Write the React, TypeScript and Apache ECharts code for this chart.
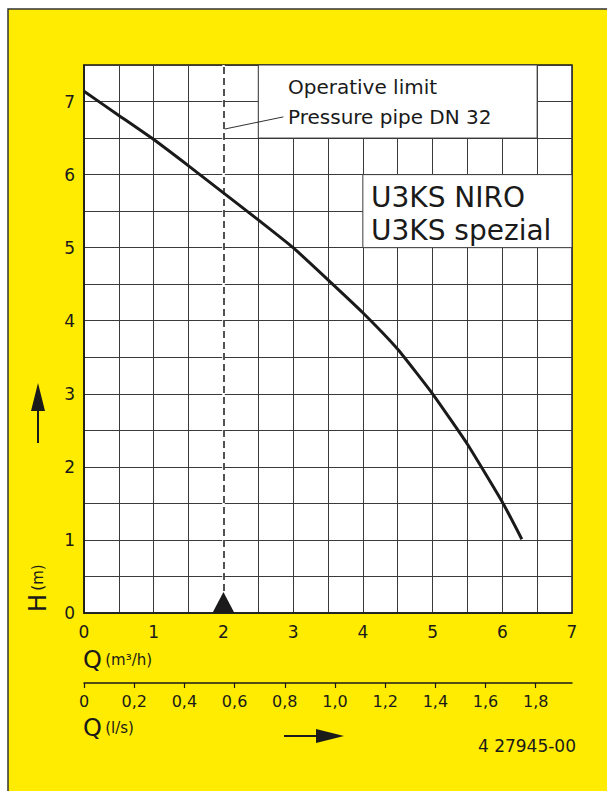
import React, { useEffect, useRef } from "react";
import * as echarts from "echarts";

// Pump curve U3KS NIRO / U3KS spezial
const flowM3h = [0, 0.5, 1, 1.5, 2, 2.5, 3, 3.5, 4, 4.5, 5, 5.5, 6, 6.28];
const headM = [7.14, 6.81, 6.48, 6.12, 5.75, 5.38, 5.0, 4.56, 4.11, 3.61, 3.0, 2.31, 1.52, 1.01];

const qMax = 7;
const hMax = 7.5;
const lsPerM3h = 1 / 3.6;
const lsTicks = [0, 0.2, 0.4, 0.6, 0.8, 1.0, 1.2, 1.4, 1.6, 1.8];

const operativeLimitQ = 2;
const leaderLine = [
  [2, 6.62],
  [2.86, 6.79],
];
const noteBox = [
  [2.5, 6.5],
  [6.5, 7.5],
];
const modelBox = [
  [4, 5],
  [7, 6],
];
const noteLines = ["Operative limit", "Pressure pipe DN 32"];
const modelLines = ["U3KS NIRO", "U3KS spezial"];
const drawingNo = "4 27945-00";

const FONT = "DejaVu Sans";
const INK = "#1a1a1a";
const YELLOW = "#FFEC00";

export default function App() {
  const ref = useRef<HTMLDivElement>(null);

  useEffect(() => {
    if (!ref.current) return;
    const chart = echarts.init(ref.current, undefined, { renderer: "svg" });

    const option: any = {
      animation: false,
      backgroundColor: "#ffffff",
      grid: {
        left: 84,
        top: 65,
        width: 488,
        height: 548,
        show: true,
        backgroundColor: "#ffffff",
        borderColor: INK,
        borderWidth: 1.5,
      },
      xAxis: [
        {
          type: "value",
          min: 0,
          max: qMax,
          interval: 0.5,
          position: "bottom",
          axisLine: { show: true, lineStyle: { color: INK, width: 1.5 } },
          axisTick: { show: false },
          axisLabel: {
            formatter: (v: number) => (Number.isInteger(v) ? String(v) : ""),
            fontFamily: FONT,
            fontSize: 17,
            color: INK,
            margin: 10,
          },
          splitLine: { show: true, lineStyle: { color: "#3a3a3a", width: 1 } },
        },
        {
          type: "value",
          min: 0,
          max: qMax * lsPerM3h,
          position: "bottom",
          offset: 70,
          axisLine: { show: true, onZero: false, lineStyle: { color: INK, width: 1.5 } },
          axisTick: {
            show: true,
            length: 5,
            lineStyle: { color: INK, width: 1.2 },
            customValues: lsTicks,
          },
          axisLabel: {
            customValues: lsTicks,
            formatter: (v: number) => (v === 0 ? "0" : v.toFixed(1).replace(".", ",")),
            fontFamily: FONT,
            fontSize: 16,
            color: INK,
            margin: 10,
          },
          splitLine: { show: false },
        },
      ],
      yAxis: {
        type: "value",
        min: 0,
        max: hMax,
        interval: 0.5,
        axisLine: { show: true, lineStyle: { color: INK, width: 1.5 } },
        axisTick: { show: false },
        axisLabel: {
          formatter: (v: number) => (Number.isInteger(v) ? String(v) : ""),
          fontFamily: FONT,
          fontSize: 17,
          color: INK,
          margin: 9,
        },
        splitLine: { show: true, lineStyle: { color: "#3a3a3a", width: 1 } },
      },
      series: [
        {
          type: "line",
          name: "boxes",
          data: leaderLine,
          symbol: "none",
          lineStyle: { opacity: 0 },
          silent: true,
          z: 1,
          markArea: {
            silent: true,
            itemStyle: { color: "#ffffff", opacity: 1, borderColor: "#3a3a3a", borderWidth: 1 },
            label: { show: false },
            data: [
              [{ coord: noteBox[0] }, { coord: noteBox[1] }],
              [{ coord: modelBox[0] }, { coord: modelBox[1] }],
            ],
          },
          markLine: {
            silent: true,
            symbol: "none",
            label: { show: false },
            lineStyle: { color: "#ffffff", width: 2.5, type: "solid" },
            data: [{ xAxis: operativeLimitQ }],
          },
        },
        {
          type: "line",
          name: "leader",
          data: leaderLine,
          symbol: "none",
          silent: true,
          lineStyle: { color: INK, width: 0.9 },
          z: 4,
          markLine: {
            silent: true,
            symbol: "none",
            label: { show: false },
            lineStyle: { color: INK, width: 1.5, type: [7, 4] },
            data: [{ xAxis: operativeLimitQ }],
          },
        },
        {
          type: "line",
          name: "H(Q)",
          data: flowM3h.map((q, i) => [q, headM[i]]),
          symbol: "none",
          smooth: 0.15,
          lineStyle: { color: INK, width: 3 },
          z: 6,
        },
        {
          type: "scatter",
          name: "limit marker",
          data: [[operativeLimitQ, 0]],
          symbol: "triangle",
          symbolSize: [22, 21],
          symbolOffset: [0, -10.5],
          itemStyle: { color: INK, opacity: 1 },
          z: 7,
        },
      ],
      graphic: [
        {
          type: "rect",
          z: -10,
          shape: { x: 8, y: 9, width: 640, height: 820 },
          style: { fill: YELLOW, stroke: "#333", lineWidth: 1.5 },
        },
        {
          type: "text",
          z: 10,
          style: {
            x: 288,
            y: 87,
            text: noteLines[0],
            font: `20px "${FONT}"`,
            fill: INK,
            verticalAlign: "middle",
          },
        },
        {
          type: "text",
          z: 10,
          style: {
            x: 288,
            y: 117,
            text: noteLines[1],
            font: `20px "${FONT}"`,
            fill: INK,
            verticalAlign: "middle",
          },
        },
        {
          type: "text",
          z: 10,
          style: {
            x: 371,
            y: 197,
            text: modelLines[0],
            font: `28px "${FONT}"`,
            fill: INK,
            verticalAlign: "middle",
          },
        },
        {
          type: "text",
          z: 10,
          style: {
            x: 371,
            y: 230,
            text: modelLines[1],
            font: `28px "${FONT}"`,
            fill: INK,
            verticalAlign: "middle",
          },
        },
        {
          type: "text",
          z: 10,
          style: {
            x: 83,
            y: 660,
            text: "{a|Q} {b|(m³/h)}",
            verticalAlign: "middle",
            rich: {
              a: { fontFamily: FONT, fontSize: 24, fill: INK },
              b: { fontFamily: FONT, fontSize: 15, fill: INK },
            },
          },
        },
        {
          type: "text",
          z: 10,
          style: {
            x: 83,
            y: 728,
            text: "{a|Q} {b|(l/s)}",
            verticalAlign: "middle",
            rich: {
              a: { fontFamily: FONT, fontSize: 24, fill: INK },
              b: { fontFamily: FONT, fontSize: 15, fill: INK },
            },
          },
        },
        {
          type: "text",
          z: 10,
          x: 38,
          y: 612,
          rotation: Math.PI / 2,
          style: {
            x: 0,
            y: 0,
            text: "{a|H} {b|(m)}",
            verticalAlign: "middle",
            align: "left",
            rich: {
              a: { fontFamily: FONT, fontSize: 24, fill: INK },
              b: { fontFamily: FONT, fontSize: 15, fill: INK },
            },
          },
        },
        {
          type: "line",
          z: 10,
          shape: { x1: 38, y1: 443, x2: 38, y2: 405 },
          style: { stroke: INK, lineWidth: 2 },
        },
        {
          type: "polygon",
          z: 10,
          shape: { points: [[38, 383], [31, 411], [45, 411]] },
          style: { fill: INK },
        },
        {
          type: "line",
          z: 10,
          shape: { x1: 284, y1: 736, x2: 318, y2: 736 },
          style: { stroke: INK, lineWidth: 2 },
        },
        {
          type: "polygon",
          z: 10,
          shape: { points: [[344, 736], [316, 729], [316, 743]] },
          style: { fill: INK },
        },
        {
          type: "text",
          z: 10,
          style: {
            x: 576,
            y: 746,
            text: drawingNo,
            font: `17px "${FONT}"`,
            fill: INK,
            align: "right",
            verticalAlign: "middle",
          },
        },
      ],
    };

    chart.setOption(option);
    return () => chart.dispose();
  }, []);

  return (
    <div
      ref={ref}
      style={{ position: "fixed", left: 0, top: 0, width: 607, height: 791 }}
    />
  );
}
